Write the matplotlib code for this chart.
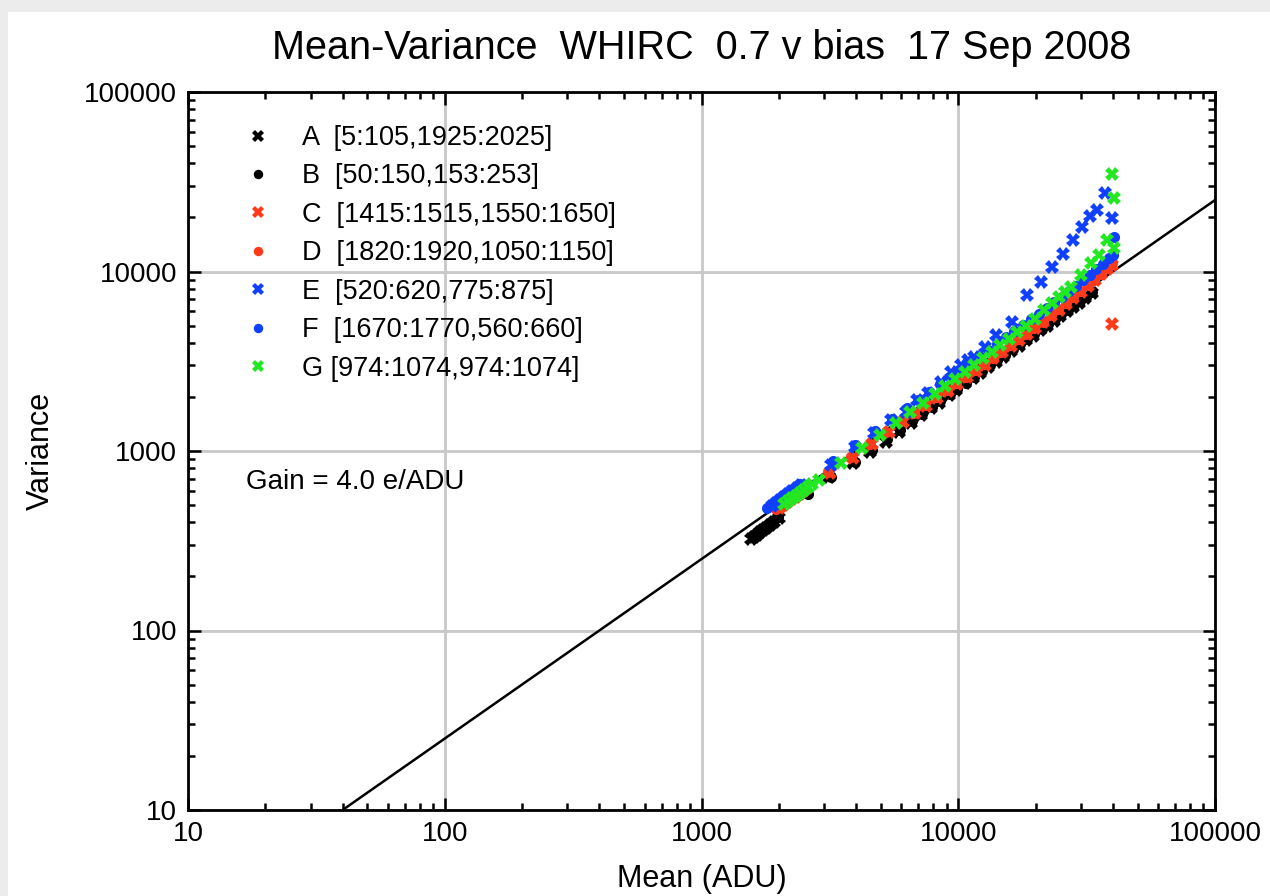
import numpy as np
import matplotlib
matplotlib.use("Agg")
import matplotlib.pyplot as plt
from matplotlib.patches import Rectangle
from matplotlib.ticker import LogLocator, NullFormatter, FixedLocator, FixedFormatter

plt.rcParams['font.family'] = ['Liberation Sans', 'DejaVu Sans']

# ---- data ----
GAIN = 4.0  # e/ADU, fit line is variance = mean / gain

a_mean = [1560, 1600, 1640, 1690, 1740, 1790, 1850, 1920, 2000, 2560, 3140, 3890, 4540, 5230,
          5880, 6550, 7160, 7830, 8410, 9200, 9800, 10600, 11400, 12200, 13100, 14000, 15000,
          16100, 17200, 18400, 19600, 20900, 22200, 23600, 25000, 26500, 28000, 29600, 31300, 33100]
a_var = [325, 333, 342, 352, 362, 372, 385, 400, 425, 583, 716, 857, 986, 1122,
         1277, 1432, 1589, 1737, 1851, 2053, 2188, 2390, 2560, 2730, 2930, 3130, 3350,
         3600, 3850, 4130, 4400, 4700, 5000, 5330, 5650, 6000, 6330, 6700, 7100, 7550]

b_mean = [1580, 1620, 1660, 1710, 1760, 1810, 1860, 1910, 1980, 2600, 3200, 3950, 4600, 5300,
          5950, 6600, 7250, 7900, 8500, 9300, 9900, 10700, 11500, 12400, 13300, 14200, 15200,
          16300, 17400, 18600, 19800, 21100, 22400, 23800, 25200, 26700, 28200, 29800, 31500, 33300]
b_var = [338, 347, 356, 366, 377, 388, 400, 412, 428, 575, 712, 870, 1010, 1160,
         1310, 1460, 1610, 1760, 1900, 2080, 2220, 2400, 2590, 2790, 3000, 3210, 3440,
         3690, 3950, 4230, 4510, 4810, 5120, 5440, 5770, 6120, 6480, 6850, 7250, 7670]

c_mean = [2000, 2080, 2160, 2240, 2320, 2400, 2490, 2580, 3180, 3880, 4600, 5350, 6100, 6800,
          7500, 8300, 9100, 9900, 10800, 11700, 12700, 13700, 14800, 16000, 17200, 18500, 19900,
          21400, 23000, 24600, 26300, 28100, 30000, 32000, 34000, 36000, 38000, 39600, 39600]
c_var = [480, 500, 518, 538, 557, 576, 598, 619, 755, 920, 1090, 1270, 1450, 1620,
         1780, 1970, 2160, 2350, 2570, 2790, 3030, 3280, 3540, 3840, 4140, 4470, 4830,
         5230, 5660, 6100, 6580, 7100, 7690, 8320, 8970, 9650, 10300, 10900, 5090]

d_mean = [1950, 2030, 2110, 2190, 2270, 2350, 2440, 2530, 3120, 3820, 4520, 5250, 6000, 6700,
          7400, 8200, 9000, 9800, 10700, 11600, 12600, 13600, 14700, 15900, 17100, 18400, 19800,
          21300, 22900, 24500, 26200, 28000, 29900, 31900, 33900, 35900, 37900, 39800]
d_var = [475, 495, 512, 532, 552, 572, 593, 615, 765, 930, 1100, 1280, 1460, 1630,
         1800, 1990, 2180, 2380, 2600, 2820, 3070, 3310, 3580, 3880, 4180, 4510, 4870,
         5260, 5690, 6150, 6650, 7180, 7760, 8380, 9020, 9690, 10400, 11200]

e_mean = [1880, 1950, 2020, 2100, 2180, 2260, 2350, 2450, 3200, 3950, 4700, 5470, 6265, 6906,
          7600, 8576, 9376, 10250, 10900, 11510, 12700, 14020, 16180, 18500, 20990, 23130, 25540,
          27920, 30270, 32520, 34600, 37240, 39630]
e_var = [495, 512, 530, 552, 575, 597, 620, 648, 840, 1050, 1260, 1489, 1649, 1923,
         2100, 2421, 2754, 3013, 3200, 3340, 3800, 4430, 5233, 7396, 8746, 10590, 12520,
         14980, 17700, 20370, 22000, 27370, 19860]

f_mean = [1800, 1870, 1940, 2010, 2080, 2160, 2240, 2330, 2420, 3260, 3960, 4750, 5500, 6300,
          7000, 7700, 8500, 9300, 10100, 11000, 12000, 13000, 14100, 15300, 16500, 17800, 19200,
          20600, 22100, 23700, 25300, 27000, 28800, 30600, 32500, 34500, 36500, 38500, 40000, 40300]
f_var = [480, 500, 520, 540, 560, 585, 606, 630, 655, 880, 1080, 1300, 1510, 1730,
         1930, 2130, 2360, 2590, 2830, 3080, 3370, 3650, 3960, 4300, 4640, 5010, 5420,
         5830, 6280, 6760, 7250, 7780, 8350, 8950, 9600, 10300, 11000, 11900, 12400, 15500]

g_mean = [2100, 2180, 2260, 2340, 2420, 2500, 2600, 2700, 2870, 3500, 4200, 4950, 5700, 6500,
          7300, 8100, 8900, 9700, 10600, 11500, 12500, 13500, 14600, 15800, 17000, 18400, 19900,
          21530, 23100, 24660, 26000, 27420, 29980, 32800, 35240, 37850, 40370, 40370, 39630]
g_var = [505, 525, 545, 565, 585, 605, 630, 655, 690, 860, 1040, 1230, 1430, 1640,
         1860, 2070, 2290, 2510, 2760, 3010, 3300, 3560, 3880, 4230, 4580, 5000, 5450,
         6110, 6650, 7210, 7700, 8200, 9550, 11140, 12370, 15000, 13520, 25600, 34900]

labels = ["A  [5:105,1925:2025]", "B  [50:150,153:253]", "C  [1415:1515,1550:1650]",
          "D  [1820:1920,1050:1150]", "E  [520:620,775:875]", "F  [1670:1770,560:660]",
          "G [974:1074,974:1074]"]

x_ticks = [10, 100, 1000, 10000, 100000]
y_ticks = [10, 100, 1000, 10000, 100000]

# ---- styles ----
black = '#000000'
red = '#ff3a1a'
blue = '#1040ff'
green = '#22e822'

series = [
    (a_mean, a_var, 'X', black),
    (b_mean, b_var, 'o', black),
    (c_mean, c_var, 'X', red),
    (d_mean, d_var, 'o', red),
    (e_mean, e_var, 'X', blue),
    (f_mean, f_var, 'o', blue),
    (g_mean, g_var, 'X', green),
]

fig = plt.figure(figsize=(12.7, 8.96), dpi=100, facecolor='#ececec')
fig.patches.append(Rectangle((8 / 1270, 0), 1 - 8 / 1270, 1 - 12 / 896,
                             transform=fig.transFigure, facecolor='white',
                             edgecolor='none', zorder=-10))
ax = fig.add_axes([188 / 1270, 1 - 810 / 896, (1215 - 188) / 1270, (810 - 92) / 896])

ax.set_xscale('log')
ax.set_yscale('log')
ax.set_xlim(10, 100000)
ax.set_ylim(10, 100000)

# fit line
xl = np.array([10, 100000])
ax.plot(xl, xl / GAIN, color='black', linewidth=1.8, zorder=3)

for (m, v, mk, col), lab in zip(series, labels):
    if mk == 'X':
        ax.plot(m, v, linestyle='none', marker='X', markersize=9.5, color=col,
                markeredgewidth=0, label=lab, zorder=4)
    else:
        ax.plot(m, v, linestyle='none', marker='o', markersize=8, color=col,
                markeredgewidth=0, label=lab, zorder=4)

ax.grid(True, which='major', color='#c8c8c8', linewidth=2)
ax.set_axisbelow(True)

ax.xaxis.set_major_locator(FixedLocator(x_ticks))
ax.xaxis.set_major_formatter(FixedFormatter([str(t) for t in x_ticks]))
ax.yaxis.set_major_locator(FixedLocator(y_ticks))
ax.yaxis.set_major_formatter(FixedFormatter([str(t) for t in y_ticks]))
ax.xaxis.set_minor_locator(LogLocator(base=10, subs=np.arange(2, 10)))
ax.yaxis.set_minor_locator(LogLocator(base=10, subs=np.arange(2, 10)))
ax.xaxis.set_minor_formatter(NullFormatter())
ax.yaxis.set_minor_formatter(NullFormatter())
ax.tick_params(which='both', direction='in', top=True, right=True, width=1.8, labelsize=20)
ax.tick_params(which='major', length=9, pad=8)
ax.tick_params(which='minor', length=5)
for s in ax.spines.values():
    s.set_linewidth(2)

ax.set_xlabel('Mean (ADU)', fontsize=22, labelpad=12)
ax.set_ylabel('Variance', fontsize=22, labelpad=20)
ax.set_title('Mean-Variance  WHIRC  0.7 v bias  17 Sep 2008', fontsize=28.5, pad=24)

leg = ax.legend(loc='upper left', frameon=False, fontsize=19.5, markerscale=0.85,
                handlelength=1.0, handletextpad=1.15, labelspacing=0.46,
                borderaxespad=0, borderpad=0, bbox_to_anchor=(0.0545, 0.954))

ax.text(0.056, 0.457, 'Gain = 4.0 e/ADU', transform=ax.transAxes, fontsize=20,
        va='center', ha='left')

fig.savefig('out.png', dpi=100, facecolor=fig.get_facecolor())
